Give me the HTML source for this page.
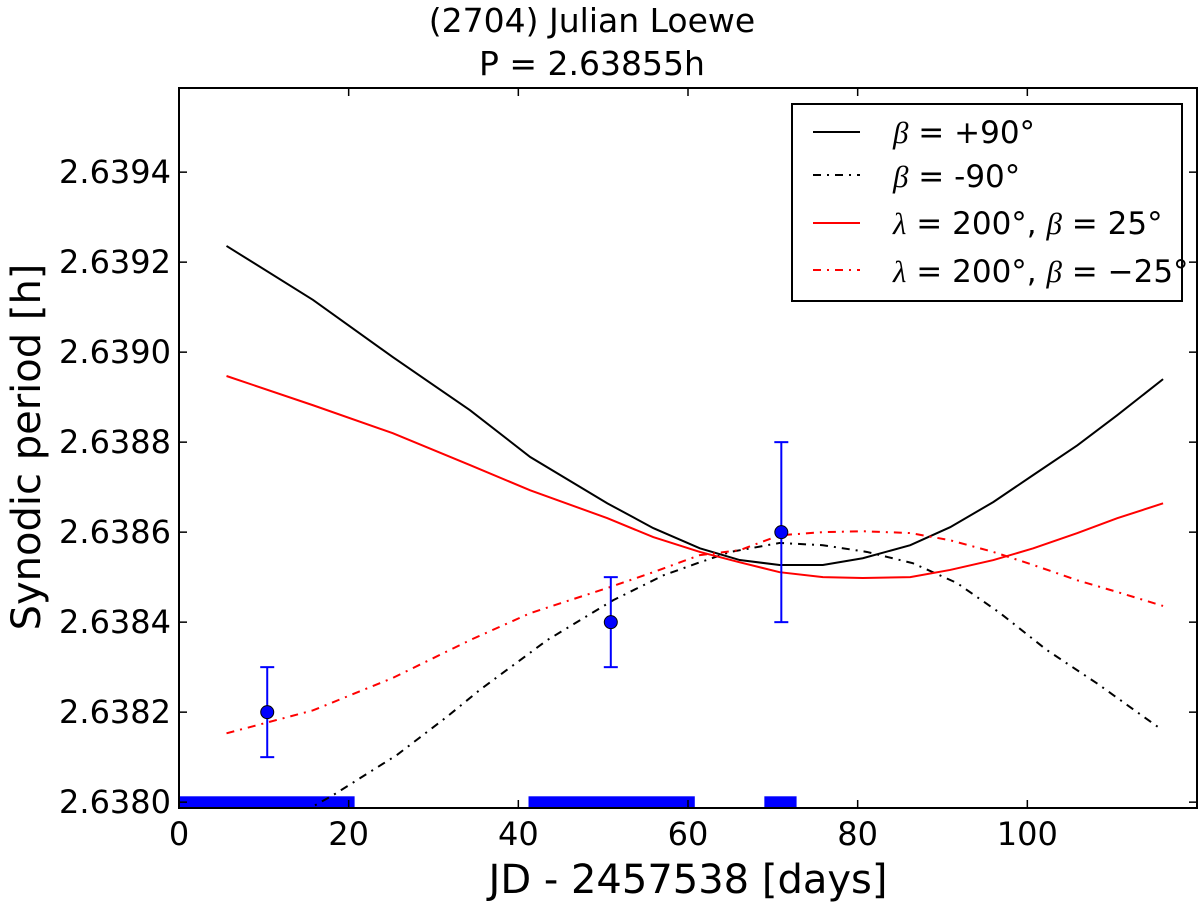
<!DOCTYPE html>
<html><head><meta charset="utf-8"><style>
body{margin:0;background:#fff;}
svg text{font-family:"DejaVu Sans","Liberation Sans",sans-serif;fill:#000;}
</style></head><body>
<svg id="chart" width="1200" height="905" xmlns="http://www.w3.org/2000/svg">
<defs><clipPath id="clip"><rect x="179" y="88" width="1018" height="720"/></clipPath></defs>
<g id="plot" clip-path="url(#clip)"></g>
<g id="axes"></g>
</svg>
<script>
const days = [5.6,15.8,25.2,34.3,41.4,50.5,55.9,61.4,66.1,70.8,75.9,80.6,86.2,90.9,96.0,100.7,105.9,110.6,116];
const betaPlus90 = [2.639236,2.639116,2.638989,2.638871,2.638767,2.638664,2.638609,2.638564,2.638538,2.638527,2.638527,2.638542,2.638571,2.638611,2.638667,2.638727,2.638793,2.638860,2.638940];
const lam200b25 = [2.638947,2.638882,2.638820,2.638749,2.638693,2.638631,2.638589,2.638556,2.638533,2.638511,2.638500,2.638498,2.638500,2.638516,2.638538,2.638564,2.638598,2.638631,2.638664];
const lam200bm25 = [2.638153,2.638204,2.638276,2.638360,2.638420,2.638476,2.638511,2.638549,2.638560,2.638593,2.638600,2.638602,2.638598,2.638582,2.638556,2.638527,2.638493,2.638467,2.638436];
const daysM90 = [5.6,12,18.2,25.7,31.6,35.5,43.4,51.2,57.1,61.4,65,70.8,75.9,81.1,86.5,91.7,96.8,102.3,108.2,115.4];
const betaMinus90 = [2.63788,2.63795,2.638016,2.638105,2.638190,2.638250,2.638360,2.638449,2.638504,2.638533,2.638556,2.638576,2.638571,2.638556,2.638531,2.638487,2.638420,2.638338,2.638264,2.638167];
const obsDays = [10.4,50.9,71.0];
const obsPeriod = [2.6382,2.6384,2.6386];
const obsErr = [0.0001,0.0001,0.0002];
const coverStart = [0,41.2,69];
const coverEnd = [20.7,60.8,72.8];
const xTicks = [0,20,40,60,80,100];
const yTicks = [2.6380,2.6382,2.6384,2.6386,2.6388,2.6390,2.6392,2.6394];

const X0=179,X1=1197,Y0=88,Y1=808,xMin=0,xMax=120,yMin=2.637987,yMax=2.639587;
const sx=d=>X0+(d-xMin)/(xMax-xMin)*(X1-X0);
const sy=v=>Y1-(v-yMin)/(yMax-yMin)*(Y1-Y0);
const NS="http://www.w3.org/2000/svg";
const plot=document.getElementById('plot'), axes=document.getElementById('axes');
function mk(tag,attrs,parent){const e=document.createElementNS(NS,tag);for(const k in attrs)e.setAttribute(k,attrs[k]);parent.appendChild(e);return e;}

coverStart.forEach((s,i)=>{
  const r=mk('rect',{x:sx(s),y:sy(2.638013),width:sx(coverEnd[i])-sx(s),height:Y1-sy(2.638013),fill:'#0000ff'},plot);
  
  
});
function line(xs,ys,color,dash,name){
  const p=mk('polyline',{points:xs.map((d,i)=>sx(d)+','+sy(ys[i])).join(' '),fill:'none',stroke:color,'stroke-width':2},plot);
  if(dash)p.setAttribute('stroke-dasharray',dash);
  
  
}
line(days,betaPlus90,'#000',null,'line-beta-plus90');
line(daysM90,betaMinus90,'#000','8,6,2,6','line-beta-minus90');
line(days,lam200b25,'#ff0000',null,'line-lambda200-beta25');
line(days,lam200bm25,'#ff0000','8,6,2,6','line-lambda200-beta-minus25');
obsDays.forEach((d,i)=>{
  const g=mk('g',{},plot);
  
  
  const x=sx(d),yt=sy(obsPeriod[i]+obsErr[i]),yb=sy(obsPeriod[i]-obsErr[i]);
  mk('line',{x1:x,x2:x,y1:yt,y2:yb,stroke:'#0000ff','stroke-width':2},g);
  mk('line',{x1:x-7,x2:x+7,y1:yt,y2:yt,stroke:'#0000ff','stroke-width':2},g);
  mk('line',{x1:x-7,x2:x+7,y1:yb,y2:yb,stroke:'#0000ff','stroke-width':2},g);
  mk('circle',{cx:x,cy:sy(obsPeriod[i]),r:6.5,fill:'#0000ff',stroke:'#000','stroke-width':1},g);
});
const fr=mk('rect',{x:X0,y:Y0,width:X1-X0,height:Y1-Y0,fill:'none',stroke:'#000','stroke-width':2},axes);


xTicks.forEach(t=>{
  const x=sx(t);
  mk('line',{x1:x,x2:x,y1:Y1,y2:Y1-8,stroke:'#000','stroke-width':1.5},axes);
  mk('line',{x1:x,x2:x,y1:Y0,y2:Y0+8,stroke:'#000','stroke-width':1.5},axes);
  const tx=mk('text',{x:x,y:845,'font-size':32,'text-anchor':'middle'},axes);
  tx.textContent=t;
  
  
});
yTicks.forEach(t=>{
  const y=sy(t);
  mk('line',{x1:X0,x2:X0+8,y1:y,y2:y,stroke:'#000','stroke-width':1.5},axes);
  mk('line',{x1:X1,x2:X1-8,y1:y,y2:y,stroke:'#000','stroke-width':1.5},axes);
  const tx=mk('text',{x:171,y:y+11,'font-size':32,'text-anchor':'end'},axes);
  tx.textContent=t.toFixed(4);
  
  
});
</script>
<svg style="position:absolute;left:0;top:0" width="1200" height="905" xmlns="http://www.w3.org/2000/svg">
<text x="592" y="32" font-size="33" text-anchor="middle">(2704) Julian Loewe</text>
<text x="592" y="75" font-size="33" text-anchor="middle">P = 2.63855h</text>
<text x="688" y="893" font-size="40" text-anchor="middle">JD - 2457538 [days]</text>
<text transform="translate(40,447) rotate(-90)" font-size="40" text-anchor="middle">Synodic period [h]</text>
<g>
<rect x="792" y="104" width="390" height="197" fill="#fff" stroke="#000" stroke-width="2"/>
<line x1="813" x2="860" y1="132" y2="132" stroke="#000" stroke-width="2"/>
<line x1="813" x2="860" y1="175" y2="175" stroke="#000" stroke-width="2" stroke-dasharray="8,6,2,6"/>
<line x1="813" x2="860" y1="223" y2="223" stroke="#ff0000" stroke-width="2"/>
<line x1="813" x2="860" y1="270" y2="270" stroke="#ff0000" stroke-width="2" stroke-dasharray="8,6,2,6"/>
<text x="893" y="143" font-size="31"><tspan font-style="italic" font-family="Liberation Serif">β</tspan> = +90°</text>
<text x="893" y="187" font-size="31"><tspan font-style="italic" font-family="Liberation Serif">β</tspan> = -90°</text>
<text x="893" y="234" font-size="31"><tspan font-style="italic" font-family="Liberation Serif">λ</tspan> = 200°, <tspan font-style="italic" font-family="Liberation Serif">β</tspan> = 25°</text>
<text x="893" y="282" font-size="31"><tspan font-style="italic" font-family="Liberation Serif">λ</tspan> = 200°, <tspan font-style="italic" font-family="Liberation Serif">β</tspan> = −25°</text>
</g>
</svg>
</body></html>
